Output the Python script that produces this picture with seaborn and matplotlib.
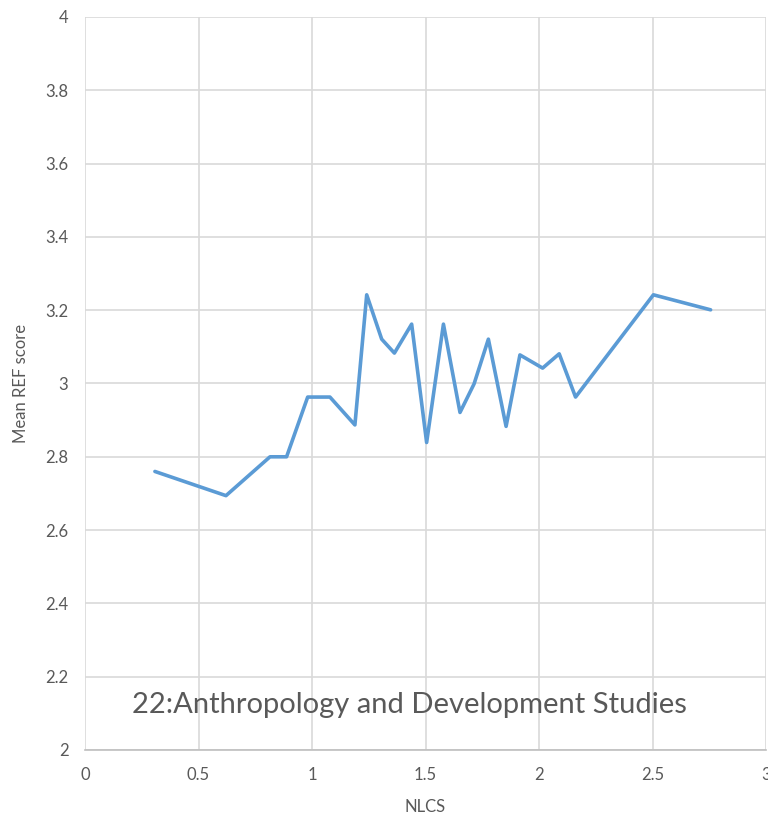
import matplotlib
matplotlib.use("Agg")
import matplotlib.pyplot as plt
import seaborn as sns
import pandas as pd

# values
nlcs = [0.308, 0.621, 0.815, 0.888, 0.981, 1.079, 1.189, 1.241, 1.307, 1.363,
        1.439, 1.505, 1.579, 1.652, 1.714, 1.777, 1.855, 1.916, 2.016, 2.089,
        2.161, 2.504, 2.756]
ref_score = [2.76, 2.694, 2.80, 2.80, 2.963, 2.963, 2.887, 3.242, 3.121, 3.083,
             3.162, 2.839, 3.162, 2.921, 2.999, 3.121, 2.883, 3.078, 3.042, 3.081,
             2.963, 3.242, 3.201]
x_ticks = [0, 0.5, 1, 1.5, 2, 2.5, 3]
x_tick_labels = ["0", "0.5", "1", "1.5", "2", "2.5", "3"]
y_ticks = [2, 2.2, 2.4, 2.6, 2.8, 3, 3.2, 3.4, 3.6, 3.8, 4]
y_tick_labels = ["2", "2.2", "2.4", "2.6", "2.8", "3", "3.2", "3.4", "3.6", "3.8", "4"]
title = "22:Anthropology and Development Studies"

df = pd.DataFrame({"NLCS": nlcs, "score": ref_score})

sns.set_style("white")
plt.rcParams["font.family"] = ["Lato", "DejaVu Sans"]
text_col = "#595959"

fig = plt.figure(figsize=(7.68, 8.18), dpi=100)
ax = fig.add_axes([85 / 768, 1 - 750 / 818, 681 / 768, 733 / 818])

sns.lineplot(data=df, x="NLCS", y="score", sort=False, color="#5B9BD5",
             linewidth=2.6, ax=ax)

ax.set_xlim(0, 3)
ax.set_ylim(2, 4)
ax.set_xticks(x_ticks)
ax.set_xticklabels(x_tick_labels)
ax.set_yticks(y_ticks)
ax.set_yticklabels(y_tick_labels)
ax.grid(True, color="#D9D9D9", linewidth=1.2)
ax.set_axisbelow(True)
for s in ["top", "right", "left"]:
    ax.spines[s].set_visible(False)
ax.spines["bottom"].set_color("#BFBFBF")
ax.spines["bottom"].set_linewidth(1.2)
ax.tick_params(length=0, labelsize=12, labelcolor=text_col, pad=12)

ax.set_xlabel("NLCS", fontsize=12, color=text_col, labelpad=12)
ax.set_ylabel("Mean REF score", fontsize=12, color=text_col, labelpad=12)

ax.text(0.477, 0.062, title, transform=ax.transAxes, ha="center", va="center",
        fontsize=21, color=text_col)

fig.savefig("out.png", dpi=100)
